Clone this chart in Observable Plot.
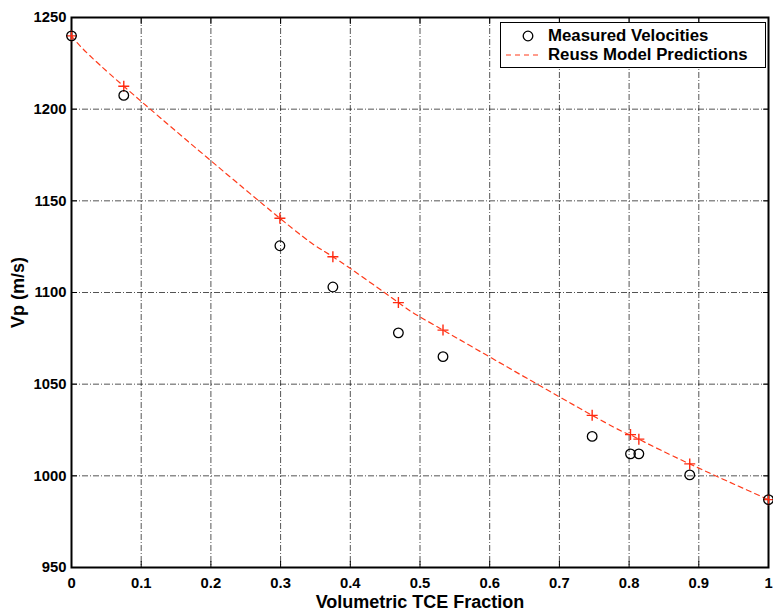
<!DOCTYPE html>
<html>
<head>
<meta charset="utf-8">
<script src="https://cdn.jsdelivr.net/npm/d3@7"></script>
<script src="https://cdn.jsdelivr.net/npm/@observablehq/plot@0.6"></script>
<style>
  html, body { margin: 0; padding: 0; background: #fff; }
  #wrap { position: relative; width: 773px; height: 611px; font-family: "Liberation Sans", Arial, Helvetica, sans-serif; }
  #legend { position: absolute; left: 500px; top: 22px; width: 266px; height: 46px; background: #fff; border: 1px solid #000; box-sizing: border-box; font-weight: bold; font-size: 16.8px; }
  #legend .row { position: absolute; left: 0; height: 20px; display: flex; align-items: center; }
  #legend svg { display: block; }
</style>
</head>
<body>
<div id="wrap"></div>
<script>
const fraction = [0, 0.075, 0.299, 0.375, 0.469, 0.533, 0.747, 0.802, 0.814, 0.887, 1.0];
const measured = [1240, 1207.5, 1125.5, 1103, 1078, 1065, 1021.5, 1012, 1012, 1000.5, 987];
const reuss    = [1240, 1212.5, 1140.5, 1119.5, 1094.5, 1079.5, 1033, 1022.5, 1020, 1006.5, 987];
const xTicks = [0, 0.1, 0.2, 0.3, 0.4, 0.5, 0.6, 0.7, 0.8, 0.9, 1];
const yTicks = [950, 1000, 1050, 1100, 1150, 1200, 1250];
const seriesNames = ["Measured Velocities", "Reuss Model Predictions"];

const data = fraction.map((f, i) => ({f, measured: measured[i], reuss: reuss[i]}));

const thinPlus = {
  draw(context, size) {
    const r = Math.sqrt(size / Math.PI);
    context.moveTo(-r, 0); context.lineTo(r, 0);
    context.moveTo(0, -r); context.lineTo(0, r);
  }
};

const fmtX = d => d === 0 ? "0" : d === 1 ? "1" : d3.format(".1f")(d);
const fmtY = d => String(d);
const grid = {stroke: "#000", strokeOpacity: 0.85, strokeWidth: 0.8, strokeDasharray: "6,2,1,2"};

const chart = Plot.plot({
  width: 773, height: 611,
  marginLeft: 71, marginRight: 5, marginTop: 17, marginBottom: 44,
  style: {fontFamily: "'Liberation Sans', Arial, Helvetica, sans-serif", fontWeight: "bold", fontSize: "15px", background: "#fff", color: "#000"},
  x: {domain: [0, 1]},
  y: {domain: [950, 1250]},
  marks: [
    Plot.gridX(xTicks.slice(1, -1), grid),
    Plot.gridY(yTicks.slice(1, -1), grid),
    Plot.axisX(xTicks, {anchor: "bottom", tickSize: -6, tickPadding: 16, tickFormat: fmtX, fontSize: 14.8, fontWeight: "bold", label: null}),
    Plot.axisX({anchor: "bottom", ticks: [], tickSize: 0, fontSize: 18, fontWeight: "bold", label: "Volumetric TCE Fraction", labelAnchor: "center", labelOffset: 40, labelArrow: "none"}),
    Plot.axisX(xTicks, {anchor: "top", tickSize: -6, tickFormat: () => "", label: null}),
    Plot.axisY(yTicks, {anchor: "left", tickSize: -6, tickPadding: 11, tickFormat: fmtY, fontSize: 14.8, fontWeight: "bold", label: null}),
    Plot.axisY({anchor: "left", ticks: [], tickSize: 0, fontSize: 18, fontWeight: "bold", label: "Vp (m/s)", labelAnchor: "center", labelOffset: 60, labelArrow: "none"}),
    Plot.axisY(yTicks, {anchor: "right", tickSize: -6, tickFormat: () => "", label: null}),
    Plot.frame({stroke: "#000", strokeWidth: 2}),
    Plot.line(data, {x: "f", y: "reuss", curve: "natural", stroke: "#ff3a1a", strokeWidth: 1.2, strokeDasharray: "5,4"}),
    Plot.dot(data, {x: "f", y: "reuss", symbol: thinPlus, r: 5.5, stroke: "#ff2a10", strokeWidth: 1.4, fill: "none"}),
    Plot.dot(data, {x: "f", y: "measured", r: 4.8, stroke: "#000", strokeWidth: 1.3, fill: "none"})
  ]
});

const wrap = document.getElementById("wrap");
wrap.appendChild(chart);

const legend = document.createElement("div");
legend.id = "legend";
legend.innerHTML = `
  <div class="row" style="top:3px"><svg width="47" height="20"><circle cx="27" cy="10" r="4.8" fill="none" stroke="#000" stroke-width="1.3"/></svg><span>${seriesNames[0]}</span></div>
  <div class="row" style="top:22px"><svg width="47" height="20"><line x1="5" x2="39" y1="10" y2="10" stroke="#ff3a1a" stroke-width="1.2" stroke-dasharray="5,4"/></svg><span>${seriesNames[1]}</span></div>`;
wrap.appendChild(legend);
</script>
</body>
</html>
